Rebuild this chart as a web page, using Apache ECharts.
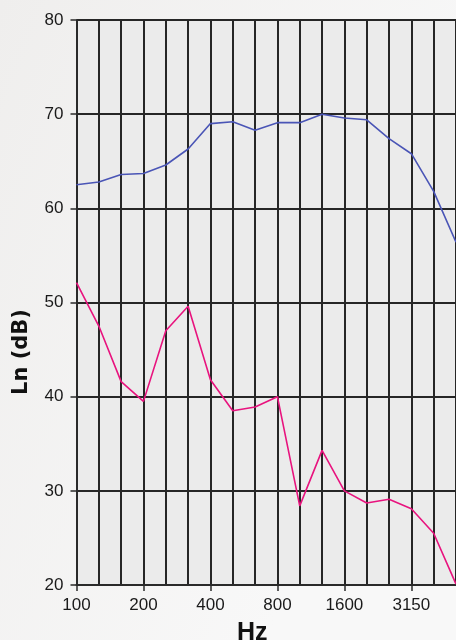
<!DOCTYPE html>
<html>
<head>
<meta charset="utf-8">
<script src="https://cdn.jsdelivr.net/npm/echarts@6/dist/echarts.min.js"></script>
<style>
html,body{margin:0;padding:0;width:456px;height:640px;overflow:hidden;}
#c{width:456px;height:640px;}
</style>
</head>
<body>
<div id="c"></div>
<script>
const categories = ['100','125','160','200','250','315','400','500','630','800','1000','1250','1600','2000','2500','3150','4000','5000'];
const seriesUpper = [62.5,62.8,63.6,63.7,64.6,66.3,69.0,69.2,68.3,69.1,69.1,70.0,69.6,69.4,67.4,65.8,61.8,56.4];
const seriesLower = [52.1,47.5,41.6,39.5,47.0,49.6,41.8,38.5,38.9,40.0,28.4,34.3,30.0,28.7,29.1,28.1,25.5,20.1];
const yTicks = {min:20, max:80, interval:10};
const xTitle = 'Hz';
const yTitle = 'Ln (dB)';

const chart = echarts.init(document.getElementById('c'), null, {renderer:'canvas'});
const font = 'Liberation Sans, Arial, sans-serif';
chart.setOption({
  animation:false,
  backgroundColor:{type:'linear',x:0,y:0,x2:1,y2:0.3,colorStops:[{offset:0,color:'#efeeed'},{offset:1,color:'#f8f8f8'}]},
  grid:{left:76.5,right:0,top:20,bottom:55,show:true,backgroundColor:'#ebebeb',borderWidth:0},
  xAxis:{
    type:'category',data:categories,boundaryGap:false,
    axisLine:{show:true,lineStyle:{color:'#2a2a2a',width:2}},
    axisTick:{show:true,interval:2,length:6,lineStyle:{color:'#2a2a2a',width:1.5}},
    axisLabel:{interval:2,margin:12,fontSize:17,color:'#1a1a1a',fontFamily:font},
    splitLine:{show:true,interval:0,lineStyle:{color:'#262626',width:2}}
  },
  yAxis:{
    type:'value',min:yTicks.min,max:yTicks.max,interval:yTicks.interval,
    axisLine:{show:true,lineStyle:{color:'#2a2a2a',width:2}},
    axisTick:{show:true,length:6,lineStyle:{color:'#2a2a2a',width:1.5}},
    axisLabel:{margin:13,fontSize:17,color:'#1a1a1a',fontFamily:font},
    splitLine:{show:true,lineStyle:{color:'#262626',width:2}}
  },
  graphic:[
    {type:'text',left:237,top:621,style:{text:xTitle,font:'bold 25px '+font,fill:'#111'}},
    {type:'text',x:11,y:395,rotation:Math.PI/2,style:{text:yTitle,font:'bold 21px DejaVu Sans, sans-serif',fill:'#111'}}
  ],
  series:[
    {type:'line',data:seriesUpper,symbol:'none',lineStyle:{color:'#4a55b6',width:1.6}},
    {type:'line',data:seriesLower,symbol:'none',lineStyle:{color:'#e8137e',width:1.6}}
  ]
});
</script>
</body>
</html>
